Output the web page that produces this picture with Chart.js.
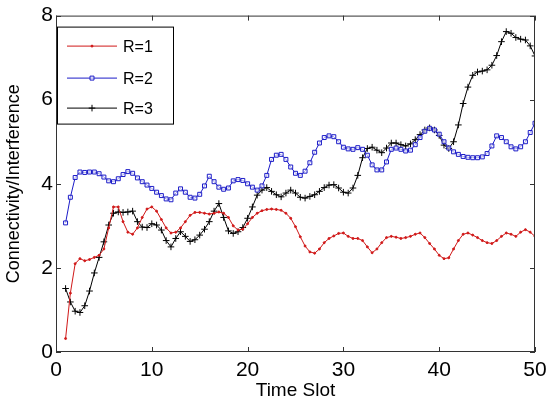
<!DOCTYPE html>
<html>
<head>
<meta charset="utf-8">
<script src="https://cdn.jsdelivr.net/npm/chart.js@4/dist/chart.umd.min.js"></script>
<style>
  body { margin: 0; background: #fff; }
  #wrap { width: 556px; height: 402px; }
</style>
</head>
<body>
<div id="wrap"><canvas id="myChart" width="556" height="402"></canvas></div>
<script>
const timeSlots = [
  1, 1.5, 2, 2.5, 3, 3.5, 4, 4.5, 5, 5.5, 6, 6.5, 7, 7.5, 8, 8.5, 9, 9.5, 10, 10.5,
  11, 11.5, 12, 12.5, 13, 13.5, 14, 14.5, 15, 15.5, 16, 16.5, 17, 17.5, 18, 18.5, 19, 19.5, 20, 20.5,
  21, 21.5, 22, 22.5, 23, 23.5, 24, 24.5, 25, 25.5, 26, 26.5, 27, 27.5, 28, 28.5, 29, 29.5, 30, 30.5,
  31, 31.5, 32, 32.5, 33, 33.5, 34, 34.5, 35, 35.5, 36, 36.5, 37, 37.5, 38, 38.5, 39, 39.5, 40, 40.5,
  41, 41.5, 42, 42.5, 43, 43.5, 44, 44.5, 45, 45.5, 46, 46.5, 47, 47.5, 48, 48.5, 49, 49.5, 50,
];

const r1 = [
  0.32, 1.4, 2.1, 2.22, 2.17, 2.2, 2.25, 2.3, 2.45, 2.95, 3.45, 3.45, 3.1, 2.85, 2.8, 2.95, 3.2, 3.4, 3.45, 3.35,
  3.15, 2.95, 2.83, 2.85, 2.95, 3.1, 3.25, 3.32, 3.32, 3.3, 3.28, 3.3, 3.33, 3.3, 3.2, 3.0, 2.9, 2.92, 3.05, 3.2,
  3.3, 3.36, 3.39, 3.4, 3.39, 3.37, 3.3, 3.18, 2.98, 2.74, 2.52, 2.38, 2.35, 2.45, 2.6, 2.7, 2.76, 2.82, 2.83, 2.75,
  2.7, 2.7, 2.65, 2.5, 2.36, 2.45, 2.6, 2.72, 2.75, 2.73, 2.7, 2.72, 2.75, 2.8, 2.83, 2.72, 2.58, 2.45, 2.3, 2.22,
  2.24, 2.45, 2.65, 2.8, 2.83, 2.78, 2.72, 2.65, 2.6, 2.58, 2.65, 2.75, 2.83, 2.8, 2.75, 2.85, 2.91, 2.85, 2.75,
];

const r2 = [
  3.07, 3.68, 4.15, 4.28, 4.27, 4.28, 4.28, 4.24, 4.16, 4.07, 4.05, 4.12, 4.22, 4.29, 4.25, 4.14, 4.05, 3.97, 3.89, 3.8,
  3.72, 3.64, 3.62, 3.78, 3.88, 3.8, 3.68, 3.66, 3.75, 3.95, 4.18, 4.05, 3.92, 3.87, 3.9, 4.07, 4.1, 4.08, 4.0, 3.92,
  3.85, 3.95, 4.2, 4.58, 4.68, 4.7, 4.58, 4.4, 4.25, 4.2, 4.3, 4.5, 4.75, 4.97, 5.1, 5.14, 5.12, 5.0, 4.87, 4.83,
  4.82, 4.86, 4.82, 4.68, 4.45, 4.33, 4.33, 4.52, 4.82, 4.85, 4.82, 4.78, 4.8, 4.93, 5.1, 5.25, 5.32, 5.28, 5.18, 5.0,
  4.85, 4.76, 4.7, 4.65, 4.63, 4.62, 4.62, 4.64, 4.72, 4.9, 5.14, 5.1, 5.0, 4.88, 4.83, 4.88, 5.0, 5.22, 5.44,
];

const r3 = [
  1.51, 1.19, 0.97, 0.94, 1.1, 1.45, 1.88, 2.25, 2.62, 3.02, 3.3, 3.33, 3.32, 3.33, 3.35, 3.1, 2.97, 2.96, 3.05, 3.02,
  2.9, 2.65, 2.5, 2.7, 2.86, 2.75, 2.63, 2.67, 2.78, 2.92, 3.1, 3.35, 3.53, 3.2, 2.88, 2.82, 2.86, 2.96, 3.18, 3.45,
  3.73, 3.85, 3.91, 3.82, 3.74, 3.69, 3.78, 3.85, 3.78, 3.68, 3.66, 3.7, 3.74, 3.82, 3.91, 3.97, 3.98, 3.9, 3.8, 3.78,
  3.9, 4.2, 4.62, 4.84, 4.87, 4.8, 4.74, 4.85, 4.97, 4.97, 4.93, 4.9, 4.95, 5.05, 5.17, 5.28, 5.33, 5.28, 5.15, 4.92,
  4.84, 5.0, 5.4, 5.91, 6.3, 6.58, 6.66, 6.68, 6.71, 6.82, 7.05, 7.38, 7.62, 7.58, 7.48, 7.44, 7.42, 7.28, 7.04,
];

const seriesLabels = ["R=1", "R=2", "R=3"];
const xTicks = [0, 10, 20, 30, 40, 50];
const yTicks = [0, 2, 4, 6, 8];

const toPoints = (vals) => vals.map((v, i) => ({ x: timeSlots[i], y: v }));

// matlab style box, inward ticks and legend
const matlabBox = {
  id: "matlabBox",
  afterDraw(chart) {
    const { ctx, chartArea, scales } = chart;
    const { left, right, top, bottom } = chartArea;
    ctx.save();
    ctx.strokeStyle = "#333";
    ctx.lineWidth = 1;
    ctx.strokeRect(left + 0.5, top + 0.5, right - left - 1, bottom - top - 1);
    ctx.beginPath();
    xTicks.forEach((v) => {
      const px = Math.round(scales.x.getPixelForValue(v)) + 0.5;
      ctx.moveTo(px, bottom);
      ctx.lineTo(px, bottom - 5);
      ctx.moveTo(px, top);
      ctx.lineTo(px, top + 5);
    });
    yTicks.forEach((v) => {
      const py = Math.round(scales.y.getPixelForValue(v)) + 0.5;
      ctx.moveTo(left, py);
      ctx.lineTo(left + 5, py);
      ctx.moveTo(right, py);
      ctx.lineTo(right - 5, py);
    });
    ctx.stroke();

    // legend
    const bx = left + 1, by = top + 11, bw = 116, bh = 97;
    ctx.fillStyle = "#fff";
    ctx.fillRect(bx, by, bw, bh);
    ctx.strokeStyle = "#000";
    ctx.strokeRect(bx + 0.5, by + 0.5, bw, bh);
    const rows = [by + 19, by + 51, by + 81];
    chart.data.datasets.forEach((ds, i) => {
      const yy = rows[i] + 0.5;
      ctx.strokeStyle = ds.borderColor;
      ctx.lineWidth = 1;
      ctx.beginPath();
      ctx.moveTo(bx + 10, yy);
      ctx.lineTo(bx + 60, yy);
      ctx.stroke();
      ctx.fillStyle = ds.backgroundColor;
      Chart.helpers.drawPoint(ctx, {
        pointStyle: ds.pointStyle,
        radius: ds.pointRadius,
        borderWidth: ds.pointBorderWidth,
      }, bx + 35, yy);
      ctx.fillStyle = "#000";
      ctx.font = "16px 'Liberation Sans', Arial, sans-serif";
      ctx.textBaseline = "middle";
      ctx.fillText(ds.label, bx + 66, yy + 1);
    });
    ctx.restore();
  },
};

const ctx = document.getElementById("myChart").getContext("2d");

const myChart = new Chart(ctx, {
  type: "line",
  data: {
    datasets: [
      {
        label: seriesLabels[0],
        data: toPoints(r1),
        borderColor: "#d01818",
        backgroundColor: "#d01818",
        borderWidth: 1,
        pointStyle: "circle",
        pointRadius: 1,
        pointBorderWidth: 1,
        tension: 0,
      },
      {
        label: seriesLabels[1],
        data: toPoints(r2),
        borderColor: "#1c1cc8",
        backgroundColor: "rgba(255,255,255,0.6)",
        borderWidth: 1,
        pointStyle: "rect",
        pointRadius: 2.8,
        pointBorderWidth: 1,
        tension: 0,
      },
      {
        label: seriesLabels[2],
        data: toPoints(r3),
        borderColor: "#000",
        backgroundColor: "#000",
        borderWidth: 1,
        pointStyle: "cross",
        pointRadius: 3.3,
        pointBorderWidth: 1,
        tension: 0,
      },
    ],
  },
  options: {
    responsive: false,
    animation: false,
    layout: { padding: { top: 15, right: 21, left: 0, bottom: 0 } },
    plugins: {
      legend: { display: false },
      tooltip: { enabled: false },
    },
    scales: {
      x: {
        type: "linear",
        min: 0,
        max: 50,
        afterBuildTicks: (s) => { s.ticks = xTicks.map((v) => ({ value: v })); },
        afterFit: (s) => { s.height = 50; },
        grid: { display: false, drawTicks: false },
        border: { display: false },
        ticks: {
          padding: 6,
          color: "#000",
          font: { family: "'Liberation Sans', Arial, sans-serif", size: 21 },
        },
        title: {
          display: true,
          text: "Time Slot",
          color: "#000",
          padding: { top: 0, bottom: 0 },
          font: { family: "'Liberation Sans', Arial, sans-serif", size: 19 },
        },
      },
      y: {
        min: 0,
        max: 8,
        afterBuildTicks: (s) => { s.ticks = yTicks.map((v) => ({ value: v })); },
        afterFit: (s) => { s.width = 56; },
        grid: { display: false, drawTicks: false },
        border: { display: false },
        ticks: {
          padding: 3,
          color: "#000",
          font: { family: "'Liberation Sans', Arial, sans-serif", size: 21 },
        },
        title: {
          display: true,
          text: "Connectivity/Interference",
          color: "#000",
          padding: { top: 3, bottom: 0 },
          font: { family: "'Liberation Sans', Arial, sans-serif", size: 18 },
        },
      },
    },
  },
  plugins: [matlabBox],
});
</script>
</body>
</html>
